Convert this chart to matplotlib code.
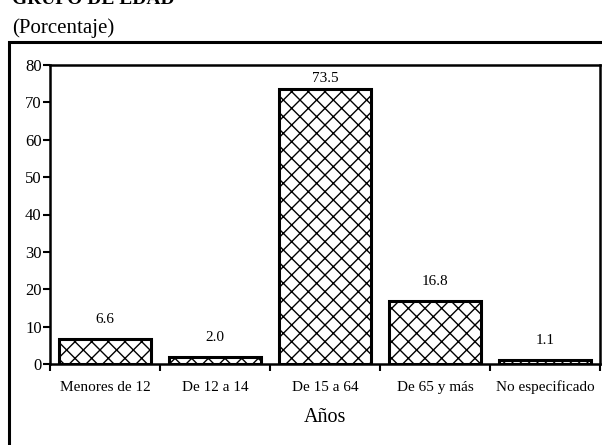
import matplotlib.pyplot as plt
import matplotlib.patches as mpatches
import numpy as np

plt.rcParams['font.family'] = ['Liberation Serif', 'DejaVu Serif']
plt.rcParams['hatch.linewidth'] = 1.0

categorias = ['Menores de 12', 'De 12 a 14', 'De 15 a 64', 'De 65 y más', 'No especificado']
porcentajes = [6.6, 2.0, 73.5, 16.8, 1.1]
yticks = [0, 10, 20, 30, 40, 50, 60, 70, 80]

fig = plt.figure(figsize=(6.02, 4.45), dpi=100)

# titles (top one is cut off in the original)
fig.text(0.02, 1 - 4 / 445, 'GRUPO DE EDAD', fontsize=14, fontweight='bold', va='baseline')
fig.text(0.02, 1 - 33 / 445, '(Porcentaje)', fontsize=15, va='baseline')

# outer frame
frame = mpatches.Rectangle((9 / 602, -0.05), 1.0, (445 - 42) / 445 + 0.05,
                           transform=fig.transFigure, fill=False,
                           edgecolor='black', linewidth=2.2)
fig.patches.append(frame)

ax = fig.add_axes([50 / 602, (445 - 364) / 445, 550 / 602, (364 - 65) / 445])

x = np.arange(len(categorias))
ax.bar(x, porcentajes, width=0.83, color='white', edgecolor='black',
       linewidth=2.2, hatch='xx')

for xi, v in zip(x, porcentajes):
    ax.text(xi, min(v + 5.2, 76.3), f'{v:.1f}', ha='center', va='center', fontsize=11)

ax.set_xlim(-0.5, len(categorias) - 0.5)
ax.set_ylim(0, 80)
ax.set_yticks(yticks)
ax.tick_params(axis='y', direction='out', length=5, width=1.5, labelsize=12, pad=1)

ax.set_xticks(x)
ax.set_xticklabels(categorias, fontsize=11)
ax.tick_params(axis='x', which='major', length=0, pad=12)
ax.set_xticks(np.arange(-0.5, len(categorias)), minor=True)
ax.tick_params(axis='x', which='minor', direction='out', length=5, width=1.5)

for s in ax.spines.values():
    s.set_linewidth(1.8)

ax.set_xlabel('Años', fontsize=14.5, labelpad=10)

fig.savefig('out.png', dpi=100)
